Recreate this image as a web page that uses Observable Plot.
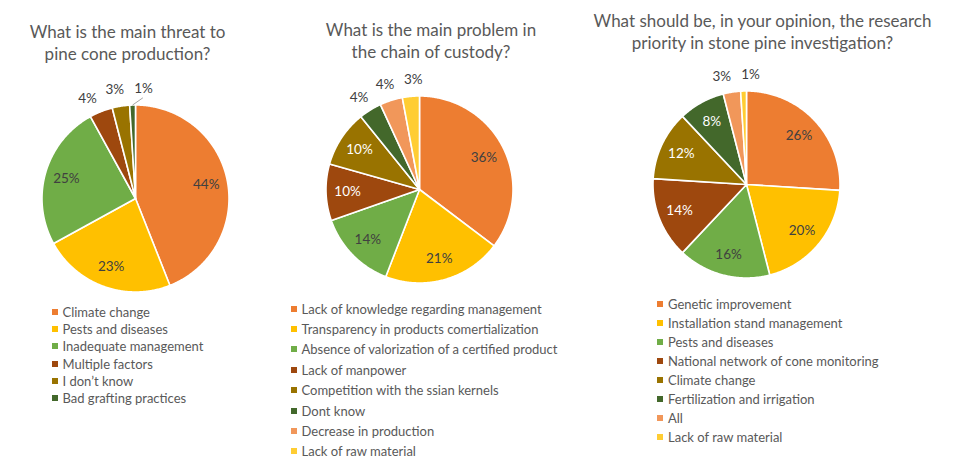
<!DOCTYPE html>
<html><head><meta charset="utf-8">
<script src="https://cdn.jsdelivr.net/npm/d3@7"></script>
<script src="https://cdn.jsdelivr.net/npm/@observablehq/plot@0.6"></script>
<style>
body{margin:0;background:#fff;}
#wrap{position:relative;width:960px;height:474px;overflow:hidden;background:#fff;font-family:Lato,"Open Sans",sans-serif;}
.pie{position:absolute;}
.title{position:absolute;color:#595959;font-size:17px;line-height:22px;text-align:center;white-space:nowrap;transform:translateX(-50%);}
.legend{position:absolute;color:#595959;font-size:13px;}
.legend .row{position:absolute;left:0;white-space:nowrap;display:flex;align-items:center;transform:translateY(-50%);}
.legend .sw{width:6px;height:6px;margin-right:5px;flex:none;}
</style></head><body><div id="wrap"></div>
<script>
// ---------- data ----------
const palette = ["#ED7D31","#FFC000","#70AD47","#9E480E","#997300","#43682B","#F1975A","#FFCD33"];

const title1 = ["What is the main threat to", "pine cone production?"];
const categories1 = ["Climate change","Pests and diseases","Inadequate management","Multiple factors","I don\u2019t know","Bad grafting practices"];
const values1 = [44, 23, 25, 4, 3, 1];

const title2 = ["What is the main problem in", "the chain of custody?"];
const categories2 = ["Lack of knowledge regarding management","Transparency in products comertialization","Absence of valorization of a certified product","Lack of manpower","Competition with the ssian kernels","Dont know","Decrease in production","Lack of raw material"];
const values2 = [36, 21, 14, 10, 10, 4, 4, 3];

const title3 = ["What should be, in your opinion, the research", "priority in stone pine investigation?"];
const categories3 = ["Genetic improvement","Installation stand management","Pests and diseases","National network of cone monitoring","Climate change","Fertilization and irrigation","All","Lack of raw material"];
const values3 = [26, 20, 16, 14, 12, 8, 3, 1];

// ---------- layout (styles) ----------
const R = 93.5, S = 280;
const layouts = [
  {cx:134.5, cy:197.5, titleX:127.5, titleTop:20.5, legX:51.5, legY:312, legStep:17.2},
  {cx:418.5, cy:188.5, titleX:431, titleTop:18.5, legX:290.5, legY:308.5, legStep:20.4},
  {cx:745.5, cy:183.5, titleX:762.5, titleTop:9.5, legX:657, legY:303.5, legStep:19.1}
];
const charts = [
  {title:title1, cats:categories1, vals:values1},
  {title:title2, cats:categories2, vals:values2},
  {title:title3, cats:categories3, vals:values3}
];

const wrap = document.getElementById("wrap");
const deg = Math.PI/180;

charts.forEach((c, ci) => {
  const L = layouts[ci];
  const colors = palette.slice(0, c.cats.length);
  const arcs = d3.pie().sort(null).value(d => d)(c.vals);
  const total = d3.sum(c.vals);

  // slice outlines in unit coordinates
  const pts = [];
  arcs.forEach((a, i) => {
    const n = Math.max(2, Math.ceil((a.endAngle - a.startAngle) / 0.01));
    pts.push({cat:c.cats[i], x:0, y:0});
    for (let k = 0; k <= n; k++) {
      const t = a.startAngle + (a.endAngle - a.startAngle) * k / n;
      pts.push({cat:c.cats[i], x:Math.sin(t), y:Math.cos(t)});
    }
    pts.push({cat:c.cats[i], x:0, y:0});
  });

  // labels
  const labels = arcs.map((a, i) => {
    const mid = (a.startAngle + a.endAngle) / 2;
    const share = c.vals[i] / total;
    const outside = share < 0.06;
    const dark = d3.hsl(colors[i]).l < 0.4;
    return {text: c.vals[i] + "%", mid, ang: mid, outside, white: !outside && dark};
  });
  const outs = labels.filter(d => d.outside);
  const minGap = 15 * deg;
  for (let it = 0; it < 60; it++) {
    for (let j = 1; j < outs.length; j++) {
      const gap = outs[j].ang - outs[j-1].ang;
      if (gap < minGap) { const p = (minGap - gap) / 2; outs[j-1].ang -= p; outs[j].ang += p; }
    }
  }
  labels.forEach(d => {
    const r = d.outside ? 1.18 : 0.77;
    d.x = r * Math.sin(d.ang); d.y = r * Math.cos(d.ang);
  });
  const leaders = outs.filter(d => Math.abs(d.ang - d.mid) > 5 * deg).map(d => ({
    x1: Math.sin(d.mid) * 1.0, y1: Math.cos(d.mid) * 1.0,
    x2: Math.sin(d.ang) * 1.08, y2: Math.cos(d.ang) * 1.08
  }));

  const half = S / 2 / R;
  const plot = Plot.plot({
    width: S, height: S, margin: 0,
    x: {domain: [-half, half], axis: null},
    y: {domain: [-half, half], axis: null},
    color: {domain: c.cats, range: colors},
    style: {background: "transparent", overflow: "visible", fontFamily: "Lato, 'Open Sans', sans-serif"},
    marks: [
      Plot.line(pts, {x: "x", y: "y", z: "cat", fill: "cat", stroke: "white", strokeWidth: 1.6, strokeLinejoin: "round"}),
      Plot.link(leaders, {x1: "x1", y1: "y1", x2: "x2", y2: "y2", stroke: "#a6a6a6", strokeWidth: 1}),
      Plot.text(labels.filter(d => !d.white), {x: "x", y: "y", text: "text", fill: "#404040", fontSize: 13.5}),
      Plot.text(labels.filter(d => d.white), {x: "x", y: "y", text: "text", fill: "#ffffff", fontSize: 13.5})
    ]
  });
  plot.classList.add("pie");
  plot.style.left = (L.cx - S/2) + "px";
  plot.style.top = (L.cy - S/2) + "px";
  wrap.appendChild(plot);

  const t = document.createElement("div");
  t.className = "title";
  t.style.left = L.titleX + "px";
  t.style.top = L.titleTop + "px";
  c.title.forEach(line => { const d = document.createElement("div"); d.textContent = line; t.appendChild(d); });
  wrap.appendChild(t);

  const leg = document.createElement("div");
  leg.className = "legend";
  leg.style.left = L.legX + "px";
  leg.style.top = "0px";
  c.cats.forEach((cat, i) => {
    const row = document.createElement("div");
    row.className = "row";
    row.style.top = (L.legY + i * L.legStep) + "px";
    const sw = document.createElement("span"); sw.className = "sw"; sw.style.background = colors[i];
    const tx = document.createElement("span"); tx.textContent = cat;
    row.appendChild(sw); row.appendChild(tx);
    leg.appendChild(row);
  });
  wrap.appendChild(leg);
});
</script></body></html>
